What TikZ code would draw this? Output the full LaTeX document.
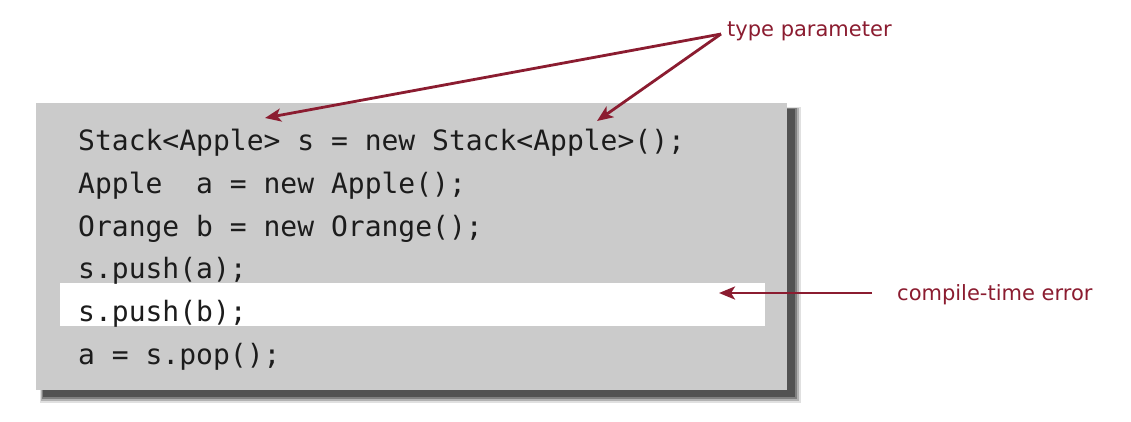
\documentclass[tikz,border=0pt]{standalone}
\usepackage{fontspec}
\setmainfont{DejaVu Sans}
\newfontfamily\codefont{DejaVu Sans Mono}
\usetikzlibrary{arrows.meta}
\definecolor{annred}{HTML}{8B1C30}
\definecolor{boxgray}{HTML}{CBCBCB}
\definecolor{codeink}{HTML}{1C1C1C}
\tikzset{
  codeline/.style={anchor=base west, inner sep=0pt, font=\codefont\fontsize{28}{30}\selectfont, text=codeink},
  annot/.style={anchor=base west, inner sep=0pt, font=\fontsize{21}{24}\selectfont, text=annred},
  annarrow/.style={draw=annred, line width=2.8pt, -{Stealth[length=16pt,width=13pt,inset=4pt]}},
}
\begin{document}
\begin{tikzpicture}[x=1pt,y=-1pt]
\useasboundingbox (0,0) rectangle (1131,421);
\fill[white] (0,0) rectangle (1131,421);
% soft shadow
\fill[black!12] (40,107) rectangle (801,403);
\fill[black!30] (41,108) rectangle (799,401);
\fill[black!50] (42,108) rectangle (797,399);
\fill[black!68] (43,109) rectangle (795,397);
% box
\fill[boxgray] (36,103) rectangle (787,390);
% highlight band
\fill[white] (60,283) rectangle (765,326);
% code
\node[codeline] (l1) at (78,150) {Stack<Apple> s = new Stack<Apple>();};
\node[codeline] (l2) at (78,193) {Apple\ \ a = new Apple();};
\node[codeline] (l3) at (78,236) {Orange b = new Orange();};
\node[codeline] (l4) at (78,278) {s.push(a);};
\node[codeline] (l5) at (78,321) {s.push(b);};
\node[codeline] (l6) at (78,364) {a = s.pop();};
% annotations
\node[annot] (tp) at (727,36) {type parameter};
\node[annot] (ce) at (897,300) {compile-time error};
\coordinate (tpstart) at (721,34);
\coordinate (tip1) at (265,118);
\coordinate (tip2) at (597,121);
\coordinate (cestart) at (872,293);
\coordinate (tip3) at (719,293);
\draw[annarrow] (tpstart) -- (tip1);
\draw[annarrow] (tpstart) -- (tip2);
\draw[annarrow] (cestart) -- (tip3);
\end{tikzpicture}
\end{document}
